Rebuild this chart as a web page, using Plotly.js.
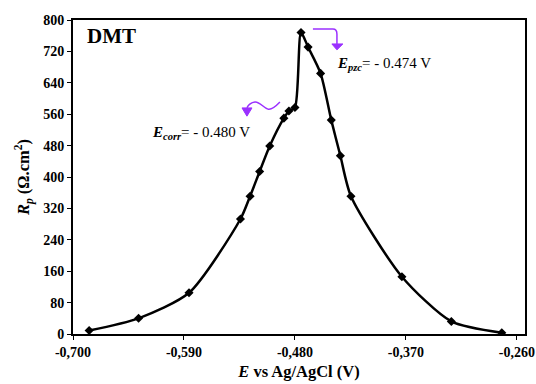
<!DOCTYPE html>
<html>
<head>
<meta charset="utf-8">
<script src="https://cdn.plot.ly/plotly-3.0.1.min.js"></script>
<style>html,body{margin:0;padding:0;background:#fff;}#chart{width:536px;height:384px;}</style>
</head>
<body>
<div id="chart"></div>
<script>
// Data
const potential = [-0.684, -0.635, -0.585, -0.534, -0.5245, -0.515, -0.505, -0.491, -0.486, -0.480, -0.474, -0.467, -0.4546, -0.444, -0.435, -0.4245, -0.374, -0.325, -0.275];
const rp = [9, 40, 105, 293, 351, 414, 479, 550, 568, 577, 768, 731, 664, 545, 454, 351, 146, 32, 3];
const xTickVals = [-0.70, -0.59, -0.48, -0.37, -0.26];
const xTickText = ["-0,700", "-0,590", "-0,480", "-0,370", "-0,260"];
const yTickVals = [0, 80, 160, 240, 320, 400, 480, 560, 640, 720, 800];
const yTickText = ["0", "80", "160", "240", "320", "400", "480", "560", "640", "720", "800"];

const serif = "'Liberation Serif', 'Times New Roman', Times, serif";
const purple = "#9b30ff";

const trace = {
  x: potential, y: rp, type: "scatter", mode: "lines+markers",
  line: {color: "#000", width: 2.5, shape: "spline", smoothing: 0.7},
  marker: {symbol: "diamond", size: 7, color: "#000"},
  hoverinfo: "skip"
};

const layout = {
  width: 536, height: 384,
  margin: {l: 73, r: 11, t: 20, b: 50},
  paper_bgcolor: "#fff", plot_bgcolor: "#fff",
  showlegend: false,
  font: {family: serif, color: "#000"},
  xaxis: {
    range: [-0.70, -0.252], tickvals: xTickVals, ticktext: xTickText,
    showgrid: false, zeroline: false, showline: true, mirror: true,
    linecolor: "#000", linewidth: 2, ticks: "outside", ticklen: 4, tickcolor: "#000", tickwidth: 1,
    tickfont: {family: serif, size: 14, color: "#000", weight: 700},
    title: {text: "<i>E</i> vs Ag/AgCl (V)", font: {family: serif, size: 16.5, color: "#000", weight: 700}, standoff: 7}
  },
  yaxis: {
    range: [0, 800], tickvals: yTickVals, ticktext: yTickText,
    showgrid: false, zeroline: false, showline: true, mirror: true,
    linecolor: "#000", linewidth: 2, ticks: "outside", ticklen: 4, tickcolor: "#000", tickwidth: 1,
    tickfont: {family: serif, size: 14, color: "#000", weight: 700},
    title: {text: "<i>R</i><sub><i>p</i></sub> (Ω.cm<sup>2</sup>)", font: {family: serif, size: 16.5, color: "#000", weight: 700}, standoff: 9}
  },
  annotations: [
    {text: "DMT", xref: "paper", yref: "paper", x: 0.026, y: 0.95, xanchor: "left", yanchor: "middle", showarrow: false, font: {family: serif, size: 21, color: "#000", weight: 700}},
    {text: "<b><i>E</i><sub><i>corr</i></sub></b>= - 0.480 V", xref: "x", yref: "y", x: -0.573, y: 512, xanchor: "center", yanchor: "middle", showarrow: false, font: {family: serif, size: 15, color: "#000"}},
    {text: "<b><i>E</i><sub><i>pzc</i></sub></b>= - 0.474 V", xref: "x", yref: "y", x: -0.392, y: 688, xanchor: "center", yanchor: "middle", showarrow: false, font: {family: serif, size: 15, color: "#000"}}
  ],
  shapes: [
    // Ecorr wavy arrow
    {type: "path", xref: "x", yref: "y", path: "M -0.4949,591 C -0.499,580 -0.503,570 -0.5068,573 C -0.511,576 -0.515,592 -0.5196,591 C -0.523,590 -0.526,585 -0.5276,576", line: {color: purple, width: 1.5}},
    {type: "path", xref: "x", yref: "y", path: "M -0.5325,576 L -0.5226,576 L -0.5276,555 Z", fillcolor: purple, line: {color: purple, width: 1}},
    // Epzc arrow
    {type: "path", xref: "x", yref: "y", path: "M -0.4622,777 L -0.4424,777 C -0.4395,777 -0.4384,772 -0.4384,764 L -0.4384,739", line: {color: purple, width: 1.5}},
    {type: "path", xref: "x", yref: "y", path: "M -0.4434,739 L -0.4325,739 L -0.4384,724 Z", fillcolor: purple, line: {color: purple, width: 1}}
  ]
};

Plotly.newPlot("chart", [trace], layout, {displayModeBar: false, staticPlot: true});
</script>
</body>
</html>
